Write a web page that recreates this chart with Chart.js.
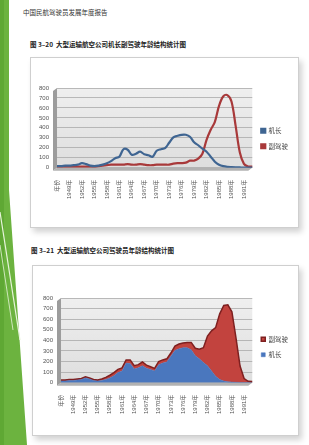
<!DOCTYPE html>
<html lang="zh">
<head>
    <meta charset="UTF-8">
    <title>大型运输航空公司驾驶员年龄结构统计图</title>
    <script src="https://cdn.jsdelivr.net/npm/chart.js@4.4.1/dist/chart.umd.min.js"></script>
    <style>
        body, html {
            margin: 0;
            padding: 0;
            background: #ffffff;
            width: 309px;
            height: 445px;
            overflow: hidden;
            font-family: "Noto Sans CJK SC", sans-serif;
        }
        #page {
            position: relative;
            width: 309px;
            height: 445px;
        }
        .running {
            position: absolute;
            left: 23px;
            top: 7px;
            font-size: 6.5px;
            color: #333;
        }
        .cap {
            position: absolute;
            left: 30px;
            font-size: 6.5px;
            font-weight: bold;
            color: #222;
        }
        .box {
            position: absolute;
            background: #fff;
            border: 1px solid #cfcfcf;
            box-shadow: 3px 4px 6px rgba(0, 0, 0, 0.18);
        }
    </style>
</head>
<body>
<div id="page">
    <svg width="32" height="445" style="position:absolute;left:0;top:0">
        <polygon points="0,0 9,0 9,190 27,445 0,445" fill="#6cb33f"/>
        <polygon points="0,0 4,0 4,445 0,445" fill="#5fa834"/>
        <line x1="0" y1="212" x2="20" y2="340" stroke="#e8f4dc" stroke-width="1.2"/>
        <line x1="0" y1="245" x2="13" y2="330" stroke="#e8f4dc" stroke-width="0.8"/>
    </svg>
    <div class="running">中国民航驾驶员发展年度报告</div>

    <div class="cap" style="top:39px">图 3–20&nbsp; 大型运输航空公司机长副驾驶年龄结构统计图</div>
    <div class="box" style="left:30px;top:57px;width:267px;height:169px">
        <canvas id="chart1"></canvas>
    </div>

    <div class="cap" style="top:245px;left:31px">图 3–21&nbsp; 大型运输航空公司驾驶员年龄结构统计图</div>
    <div class="box" style="left:32px;top:265px;width:265px;height:169px">
        <canvas id="chart2"></canvas>
    </div>
</div>

<script>
    // Categories: first one is the "年份" header column, then birth years 1947-1993
    const years = ['年份'];
    for (let y = 1947; y <= 1993; y++) years.push(y + '年');

    // 机长 (captains) per birth year
    const captains = [15, 15, 20, 20, 25, 30, 45, 35, 20, 15,
                      20, 30, 45, 65, 95, 110, 185, 180, 130, 140,
                      160, 135, 125, 110, 170, 185, 195, 250, 305, 320,
                      330, 330, 310, 255, 225, 190, 160, 110, 60, 30,
                      15, 8, 5, 3, 2, 1, 1, 0];

    // 副驾驶 (first officers) per birth year
    const firstOfficers = [10, 10, 10, 10, 10, 10, 10, 10, 10, 10,
                           15, 20, 25, 30, 30, 30, 30, 35, 30, 30,
                           35, 30, 25, 25, 30, 30, 30, 30, 40, 45,
                           45, 50, 70, 70, 90, 140, 280, 380, 460, 620,
                           715, 728, 665, 420, 155, 38, 12, 10];

    const yTicks = [0, 100, 200, 300, 400, 500, 600, 700, 800];

    Chart.defaults.animation = false;
    Chart.defaults.font.family = "'Liberation Sans', 'Noto Sans CJK SC', sans-serif";

    // Grey back wall, side wall and floor to imitate the Excel 3D look
    const wall3d = {
        id: 'wall3d',
        beforeDraw(chart) {
            const ctx = chart.ctx;
            const a = chart.chartArea;
            ctx.save();
            const g = ctx.createLinearGradient(0, a.top, 0, a.bottom);
            g.addColorStop(0, '#efefef');
            g.addColorStop(1, '#dedede');
            ctx.fillStyle = g;
            ctx.fillRect(a.left, a.top, a.right - a.left, a.bottom - a.top);
            // left side wall
            ctx.fillStyle = '#9c9c9c';
            ctx.beginPath();
            ctx.moveTo(a.left - 4, a.top + 3);
            ctx.lineTo(a.left, a.top);
            ctx.lineTo(a.left, a.bottom);
            ctx.lineTo(a.left - 4, a.bottom + 3);
            ctx.closePath();
            ctx.fill();
            // floor
            ctx.fillStyle = '#b2b2b2';
            ctx.beginPath();
            ctx.moveTo(a.left - 4, a.bottom + 3);
            ctx.lineTo(a.left, a.bottom);
            ctx.lineTo(a.right, a.bottom);
            ctx.lineTo(a.right - 4, a.bottom + 3);
            ctx.closePath();
            ctx.fill();
            ctx.restore();
        }
    };

    // Nudge the right-hand legend a bit above centre, like the original
    function legendShift(dy) {
        return {
            id: 'legendShift',
            afterLayout(chart) {
                chart.legend.top += dy;
                chart.legend.bottom += dy;
            }
        };
    }

    function makeScales(stacked) {
        return {
            x: {
                grid: { display: false },
                border: { display: false },
                ticks: {
                    autoSkip: false,
                    minRotation: 90,
                    maxRotation: 90,
                    padding: 4,
                    color: '#555',
                    font: { size: 6 },
                    callback: function (val, i) {
                        return i % 3 === 0 ? years[i] : '';
                    }
                }
            },
            y: {
                stacked: stacked,
                min: 0,
                max: 800,
                afterBuildTicks: (axis) => {
                    axis.ticks = yTicks.map(v => ({ value: v }));
                },
                grid: { color: '#a9a9a9', lineWidth: 0.8, drawTicks: false },
                border: { display: false },
                ticks: {
                    autoSkip: false,
                    padding: 8,
                    color: '#555',
                    font: { size: 6 }
                }
            }
        };
    }

    function legendOpts(reverse) {
        return {
            position: 'right',
            reverse: reverse,
            labels: {
                boxWidth: 4,
                boxHeight: 4,
                padding: 9,
                color: '#444',
                font: { size: 6.5, family: "'Noto Sans CJK SC', sans-serif" }
            }
        };
    }

    // Figure 3-20: lines
    new Chart(document.getElementById('chart1'), {
        type: 'line',
        data: {
            labels: years,
            datasets: [{
                label: '机长',
                data: captains,
                borderColor: '#3f6592',
                backgroundColor: '#3f6592',
                borderWidth: 2.2,
                pointRadius: 0,
                tension: 0.35
            }, {
                label: '副驾驶',
                data: firstOfficers,
                borderColor: '#a8393a',
                backgroundColor: '#a8393a',
                borderWidth: 2.2,
                pointRadius: 0,
                tension: 0.35
            }]
        },
        options: {
            responsive: true,
            maintainAspectRatio: false,
            layout: { padding: { left: 0, top: 30, right: 0, bottom: 24 } },
            plugins: { legend: legendOpts(false), tooltip: { enabled: false } },
            scales: makeScales(false)
        },
        plugins: [wall3d, legendShift(-7)]
    });

    // Figure 3-21: stacked areas
    new Chart(document.getElementById('chart2'), {
        type: 'line',
        data: {
            labels: years,
            datasets: [{
                label: '机长',
                data: captains,
                borderColor: '#4a77be',
                backgroundColor: '#4a77be',
                borderWidth: 0.5,
                pointRadius: 0,
                fill: 'origin'
            }, {
                label: '副驾驶',
                data: firstOfficers,
                borderColor: '#7e2020',
                backgroundColor: '#c2433e',
                borderWidth: 1.5,
                pointRadius: 0,
                fill: '-1'
            }]
        },
        options: {
            responsive: true,
            maintainAspectRatio: false,
            layout: { padding: { left: 2, top: 32, right: 0, bottom: 17 } },
            plugins: { legend: legendOpts(true), tooltip: { enabled: false } },
            scales: makeScales(true)
        },
        plugins: [wall3d, legendShift(-11)]
    });
</script>
</body>
</html>
